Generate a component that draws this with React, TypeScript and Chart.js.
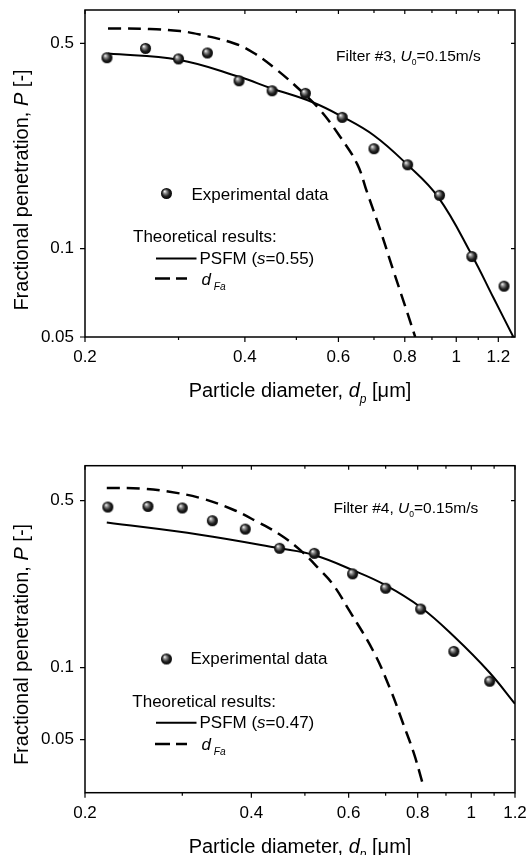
import React, { useEffect, useRef } from 'react';
import { Chart, registerables } from 'chart.js';

Chart.register(...registerables);

const FONT = '"Liberation Sans", Arial, Helvetica, sans-serif';

// Axis ticks (shared by both panels)
const xTickValues = [0.2, 0.4, 0.6, 0.8, 1, 1.2];
const xTickLabels = ['0.2', '0.4', '0.6', '0.8', '1', '1.2'];
const xMinorTicks = [0.3, 0.5, 0.7, 0.9, 1.1];
const yTickValues = [0.05, 0.1, 0.5];
const yTickLabels = ['0.05', '0.1', '0.5'];

// Filter #3 — experimental data
const expX3 = [0.22, 0.26, 0.3, 0.34, 0.39, 0.45, 0.52, 0.61, 0.7, 0.81, 0.93, 1.07, 1.23];
const expP3 = [0.447, 0.481, 0.443, 0.464, 0.373, 0.345, 0.338, 0.28, 0.219, 0.193, 0.152, 0.094, 0.0745];
// Filter #3 — PSFM (s=0.55)
const psfmX3 = [0.221, 0.3, 0.39, 0.448, 0.535, 0.607, 0.7, 0.807, 0.924, 1.07, 1.175, 1.281];
const psfmP3 = [0.462, 0.44, 0.385, 0.352, 0.316, 0.283, 0.243, 0.194, 0.15, 0.095, 0.068, 0.05];
// Filter #3 — dFa
const dfaX3 = [0.221, 0.265, 0.302, 0.329, 0.381, 0.415, 0.459, 0.508, 0.554, 0.604, 0.651, 0.679, 0.719, 0.76, 0.801, 0.837];
const dfaP3 = [0.562, 0.56, 0.551, 0.536, 0.501, 0.465, 0.407, 0.347, 0.297, 0.241, 0.194, 0.156, 0.116, 0.085, 0.0638, 0.05];

// Filter #4 — experimental data
const expX4 = [0.22, 0.26, 0.3, 0.34, 0.39, 0.45, 0.52, 0.61, 0.7, 0.81, 0.93, 1.08];
const expP4 = [0.47, 0.473, 0.466, 0.412, 0.38, 0.316, 0.301, 0.247, 0.215, 0.176, 0.117, 0.0878];
// Filter #4 — PSFM (s=0.47)
const psfmX4 = [0.219, 0.323, 0.449, 0.519, 0.61, 0.698, 0.81, 0.931, 1.078, 1.2];
const psfmP4 = [0.405, 0.36, 0.316, 0.296, 0.256, 0.222, 0.179, 0.135, 0.0957, 0.0706];
// Filter #4 — dFa
const dfaX4 = [0.219, 0.252, 0.281, 0.323, 0.371, 0.409, 0.451, 0.49, 0.533, 0.563, 0.601, 0.664, 0.713, 0.753, 0.788, 0.816];
const dfaP4 = [0.565, 0.562, 0.547, 0.513, 0.458, 0.409, 0.36, 0.311, 0.256, 0.222, 0.174, 0.118, 0.0818, 0.0583, 0.0436, 0.033];

const toPts = (xs: number[], ys: number[]) => xs.map((x, i) => ({ x, y: ys[i] }));

type Part = { t: string; it?: boolean; sub?: boolean };

function drawRich(
  ctx: CanvasRenderingContext2D,
  parts: Part[],
  x: number,
  y: number,
  size: number,
  align: 'left' | 'center',
  subScale = 0.6,
  subDy = 0.28
) {
  const fontFor = (p: Part) => `${p.it ? 'italic ' : ''}${p.sub ? size * subScale : size}px ${FONT}`;
  let total = 0;
  const widths = parts.map((p) => {
    ctx.font = fontFor(p);
    const w = ctx.measureText(p.t).width;
    total += w;
    return w;
  });
  let cx = align === 'center' ? x - total / 2 : x;
  ctx.textAlign = 'left';
  ctx.textBaseline = 'alphabetic';
  ctx.fillStyle = '#000';
  parts.forEach((p, i) => {
    ctx.font = fontFor(p);
    ctx.fillText(p.t, cx, p.sub ? y + size * subDy : y);
    cx += widths[i];
  });
}

function makeSphere(r: number) {
  const c = document.createElement('canvas');
  const s = Math.ceil(r * 2 + 2);
  c.width = s;
  c.height = s;
  const g = c.getContext('2d')!;
  const cx = s / 2;
  const cy = s / 2;
  const grad = g.createRadialGradient(cx - r * 0.35, cy - r * 0.4, r * 0.05, cx, cy, r);
  grad.addColorStop(0, '#f2f2f2');
  grad.addColorStop(0.28, '#8a8a8a');
  grad.addColorStop(0.65, '#222');
  grad.addColorStop(1, '#030303');
  g.fillStyle = grad;
  g.beginPath();
  g.arc(cx, cy, r, 0, Math.PI * 2);
  g.fill();
  return c;
}

type PanelCfg = {
  height: number;
  padTop: number;
  xAxisH: number;
  xMax: number;
  yMin: number;
  yMax: number;
  exp: { x: number; y: number }[];
  psfm: { x: number; y: number }[];
  dfa: { x: number; y: number }[];
  filter: string;
  sValue: string;
  annX: number;
  annY: number;
  markerX: number;
  markerY: number;
  expTextX: number;
  expTextY: number;
  theoX: number;
  theoY: number;
  solidY: number;
  psfmTextY: number;
  dashY: number;
  dTextY: number;
  xTitleY: number;
  yTitleY: number;
};

const panel3: PanelCfg = {
  height: 428,
  padTop: 10,
  xAxisH: 91,
  xMax: 1.29,
  yMin: 0.05,
  yMax: 0.65,
  exp: toPts(expX3, expP3),
  psfm: toPts(psfmX3, psfmP3),
  dfa: toPts(dfaX3, dfaP3),
  filter: 'Filter #3, ',
  sValue: '=0.55)',
  annX: 336,
  annY: 61,
  markerX: 166.5,
  markerY: 193.5,
  expTextX: 191.5,
  expTextY: 200,
  theoX: 133,
  theoY: 241.5,
  solidY: 258.5,
  psfmTextY: 263.5,
  dashY: 278.5,
  dTextY: 285,
  xTitleY: 397,
  yTitleY: 190,
};

const panel4: PanelCfg = {
  height: 427,
  padTop: 37.7,
  xAxisH: 62.3,
  xMax: 1.2,
  yMin: 0.03,
  yMax: 0.7,
  exp: toPts(expX4, expP4),
  psfm: toPts(psfmX4, psfmP4),
  dfa: toPts(dfaX4, dfaP4),
  filter: 'Filter #4, ',
  sValue: '=0.47)',
  annX: 333.5,
  annY: 85.3,
  markerX: 166.5,
  markerY: 231,
  expTextX: 190.5,
  expTextY: 236,
  theoX: 132.3,
  theoY: 278.7,
  solidY: 294.7,
  psfmTextY: 300.3,
  dashY: 316,
  dTextY: 322,
  xTitleY: 424.7,
  yTitleY: 216.5,
};

function PanelChart({ cfg }: { cfg: PanelCfg }) {
  const ref = useRef<HTMLCanvasElement>(null);

  useEffect(() => {
    const sphere = makeSphere(5.5);

    const decor = {
      id: 'decor',
      afterDraw(chart: any) {
        const ctx: CanvasRenderingContext2D = chart.ctx;
        const { left, right, top, bottom } = chart.chartArea;
        const xs = chart.scales.x;
        const ys = chart.scales.y;
        ctx.save();
        ctx.strokeStyle = '#000';
        ctx.lineWidth = 1.5;
        ctx.strokeRect(left, top, right - left, bottom - top);
        ctx.lineWidth = 1.2;
        ctx.beginPath();
        xTickValues.forEach((v) => {
          const px = xs.getPixelForValue(v);
          ctx.moveTo(px, bottom);
          ctx.lineTo(px, bottom + 5);
          ctx.moveTo(px, top);
          ctx.lineTo(px, top + 4);
        });
        xMinorTicks.forEach((v) => {
          const px = xs.getPixelForValue(v);
          ctx.moveTo(px, bottom);
          ctx.lineTo(px, bottom + 3);
          ctx.moveTo(px, top);
          ctx.lineTo(px, top + 3);
        });
        yTickValues.forEach((v) => {
          const py = ys.getPixelForValue(v);
          if (py < top - 0.5 || py > bottom + 0.5) return;
          ctx.moveTo(left - 5, py);
          ctx.lineTo(left, py);
          ctx.moveTo(right - 4, py);
          ctx.lineTo(right, py);
        });
        ctx.stroke();

        // axis titles
        drawRich(
          ctx,
          [{ t: 'Particle diameter, ' }, { t: 'd', it: true }, { t: 'p', it: true, sub: true }, { t: ' [\u03bcm]' }],
          (left + right) / 2,
          cfg.xTitleY,
          20,
          'center'
        );
        ctx.save();
        ctx.translate(28, cfg.yTitleY);
        ctx.rotate(-Math.PI / 2);
        drawRich(ctx, [{ t: 'Fractional penetration, ' }, { t: 'P', it: true }, { t: ' [-]' }], 0, 0, 20, 'center');
        ctx.restore();

        // annotation
        drawRich(
          ctx,
          [{ t: cfg.filter }, { t: 'U', it: true }, { t: '0', sub: true }, { t: '=0.15m/s' }],
          cfg.annX,
          cfg.annY,
          15.5,
          'left',
          0.55,
          0.25
        );

        // legend
        ctx.drawImage(sphere, cfg.markerX - sphere.width / 2, cfg.markerY - sphere.height / 2);
        drawRich(ctx, [{ t: 'Experimental data' }], cfg.expTextX, cfg.expTextY, 17, 'left');
        drawRich(ctx, [{ t: 'Theoretical results:' }], cfg.theoX, cfg.theoY, 17, 'left');
        ctx.strokeStyle = '#000';
        ctx.lineWidth = 2;
        ctx.setLineDash([]);
        ctx.beginPath();
        ctx.moveTo(156, cfg.solidY);
        ctx.lineTo(196.5, cfg.solidY);
        ctx.stroke();
        drawRich(ctx, [{ t: 'PSFM (' }, { t: 's', it: true }, { t: cfg.sValue }], 199.5, cfg.psfmTextY, 17, 'left');
        ctx.lineWidth = 2.5;
        ctx.beginPath();
        ctx.moveTo(155, cfg.dashY);
        ctx.lineTo(170, cfg.dashY);
        ctx.moveTo(176, cfg.dashY);
        ctx.lineTo(187, cfg.dashY);
        ctx.stroke();
        drawRich(ctx, [{ t: 'd', it: true }, { t: ' Fa', it: true, sub: true }], 201.5, cfg.dTextY, 17, 'left', 0.6, 0.32);
        ctx.restore();
      },
    };

    const chart = new Chart(ref.current!, {
      type: 'scatter',
      data: {
        datasets: [
          {
            label: 'Experimental data',
            data: cfg.exp,
            pointStyle: sphere as any,
            pointRadius: 5,
            pointHoverRadius: 5,
            showLine: false,
          },
          {
            label: 'PSFM',
            data: cfg.psfm,
            showLine: true,
            borderColor: '#000',
            borderWidth: 2,
            pointRadius: 0,
            pointHoverRadius: 0,
            tension: 0.4,
            fill: false,
          },
          {
            label: 'dFa',
            data: cfg.dfa,
            showLine: true,
            borderColor: '#000',
            borderWidth: 2.5,
            borderDash: [13, 7],
            pointRadius: 0,
            pointHoverRadius: 0,
            tension: 0.4,
            fill: false,
          },
        ] as any,
      },
      options: {
        animation: false,
        responsive: false,
        events: [],
        layout: { padding: { left: 0, right: 13, top: cfg.padTop, bottom: 0 } },
        plugins: { legend: { display: false }, tooltip: { enabled: false } },
        scales: {
          x: {
            type: 'logarithmic',
            min: 0.2,
            max: cfg.xMax,
            grid: { display: false, drawTicks: false },
            border: { display: false },
            afterBuildTicks: (s: any) => {
              s.ticks = xTickValues.map((v) => ({ value: v }));
            },
            afterFit: (s: any) => {
              s.height = cfg.xAxisH;
              s.paddingLeft = 0;
              s.paddingRight = 0;
            },
            ticks: {
              autoSkip: false,
              maxRotation: 0,
              minRotation: 0,
              padding: 10.5,
              color: '#000',
              font: { family: FONT, size: 17 },
              callback: (_v: any, i: number) => xTickLabels[i],
            },
          },
          y: {
            type: 'logarithmic',
            min: cfg.yMin,
            max: cfg.yMax,
            grid: { display: false, drawTicks: false },
            border: { display: false },
            afterBuildTicks: (s: any) => {
              s.ticks = yTickValues.map((v) => ({ value: v }));
            },
            afterFit: (s: any) => {
              s.width = 85;
              s.paddingTop = 0;
              s.paddingBottom = 0;
            },
            ticks: {
              autoSkip: false,
              padding: 11,
              color: '#000',
              font: { family: FONT, size: 17 },
              callback: (_v: any, i: number) => yTickLabels[i],
            },
          },
        },
      } as any,
      plugins: [decor],
    });
    return () => chart.destroy();
  }, [cfg]);

  return <canvas ref={ref} width={528} height={cfg.height} style={{ display: 'block' }} />;
}

export default function App() {
  return (
    <div style={{ position: 'fixed', left: 0, top: 0, width: 528, height: 855, background: '#fff' }}>
      <PanelChart cfg={panel3} />
      <PanelChart cfg={panel4} />
    </div>
  );
}
